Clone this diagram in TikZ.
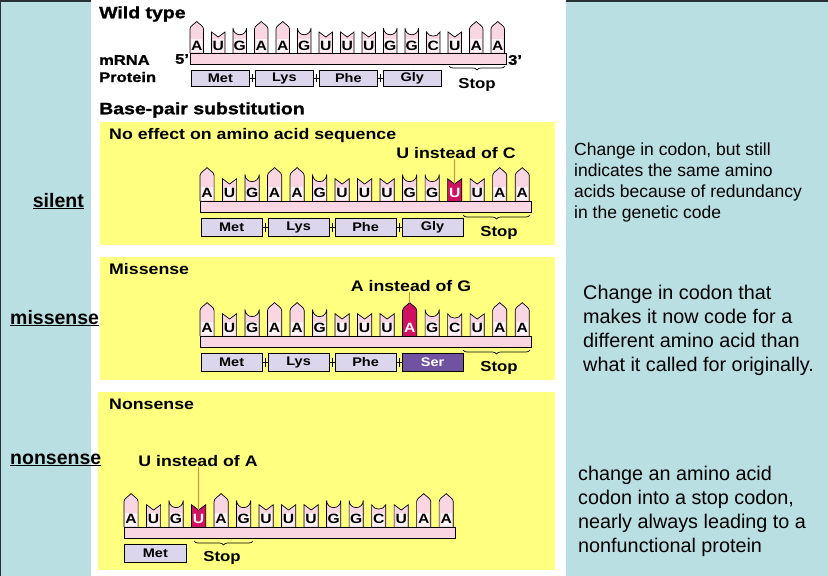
\documentclass[tikz,border=0pt]{standalone}
\usepackage{fontspec}
\setmainfont{Liberation Sans}
\newfontfamily\hv[FakeStretch=1.16]{Liberation Sans}
\newfontfamily\hvx[FakeStretch=1.18,FakeBold=1.2]{Liberation Sans}
\usetikzlibrary{decorations.pathreplacing,calc}
\definecolor{bgblue}{RGB}{186,223,227}
\definecolor{ylw}{RGB}{255,255,128}
\definecolor{tpink}{RGB}{250,214,226}
\definecolor{hmag}{RGB}{208,16,96}
\definecolor{lav}{RGB}{220,214,236}
\definecolor{serc}{RGB}{112,82,160}
\definecolor{ptrc}{RGB}{236,128,64}
\definecolor{edge}{RGB}{40,50,55}
\newcommand\lfont{\hv\bfseries\fontsize{13.5}{13.5}\selectfont}
\newcommand\pfont{\hv\bfseries\fontsize{12.5}{12.5}\selectfont}
\newcommand\tfont{\hv\bfseries\fontsize{15.3}{16}\selectfont}
\def\tshapeA{(0,0)--(0,-24) .. controls (0,-27) and (4.5,-29) .. (6.75,-31.5) .. controls (9,-29) and (13.5,-27) .. (13.5,-24) -- (13.5,0)}
\def\tshapeG{(0,0)--(0,-25) arc[start angle=180,end angle=0,radius=6.75] -- (13.5,0)}
\def\tshapeU{(0,0)--(0,-21)--(6.75,-16)--(13.5,-21)--(13.5,0)}
\def\tshapeC{(0,0)--(0,-21) .. controls (2.5,-15.5) and (11,-15.5) .. (13.5,-21)--(13.5,0)}
\def\ttopA{-31.5}\def\ttopG{-31.75}\def\ttopU{-16}\def\ttopC{-16}
% #1 prefix, #2 x, #3 bar-top y, #4 xscale, #5 yscale, #6 list
\newcommand\tilerow[6]{%
  \begin{scope}[shift={(#2,#3)},xscale=#4,yscale=#5]
    \foreach \L/\h [count=\i from 0] in {#6}{
      \expandafter\let\expandafter\tshape\csname tshape\L\endcsname
      \begin{scope}[shift={(\i*21.5,0)}]
        \draw[tile\h] \tshape;
        \node[letter\h] (#1-\i) at (6.75,-7.3) {\L};
        \coordinate (#1-\i-t) at (6.75,\csname ttop\L\endcsname);
      \end{scope}
    }
    \draw[bar] (0,0) rectangle (316,11);
  \end{scope}}
\begin{document}
\begin{tikzpicture}[x=1pt,y=-1pt,
  tile0/.style={draw=black,line width=0.7pt,fill=tpink},
  tile1/.style={draw=black,line width=0.7pt,fill=hmag},
  letter0/.style={font=\lfont,text=black,inner sep=0pt,fill=tpink!30,minimum width=10.5,minimum height=13.5},
  letter1/.style={font=\lfont,text=white,inner sep=0pt},
  bar/.style={draw=black,line width=0.7pt,fill=tpink},
  pbox/.style={draw=black,line width=0.7pt,fill=lav,font=\pfont,inner sep=0pt,anchor=north west},
  sbox/.style={pbox,fill=serc,text=white},
  plink/.style={draw=black,line width=0.6pt},
  brc/.style={draw=black,line width=0.7pt,decorate,decoration={brace,mirror,amplitude=4pt}},
  stoplbl/.style={font=\hv\bfseries\fontsize{14.5}{14.5}\selectfont,inner sep=0pt},
  hlbl/.style={font=\hvx\bfseries\fontsize{16.5}{16.5}\selectfont,inner sep=0pt,anchor=west},
  slbl/.style={font=\hvx\bfseries\fontsize{14}{14}\selectfont,inner sep=0pt,anchor=west},
  plbl/.style={font=\tfont,inner sep=0pt,anchor=west},
  ilbl/.style={font=\tfont,inner sep=0pt},
  ptr/.style={draw=ptrc,line width=1pt},
  side/.style={font=\bfseries\fontsize{19.5}{20}\selectfont,inner sep=0pt,anchor=base west},
  rt1/.style={font=\fontsize{17.5}{20}\selectfont,inner sep=0pt,anchor=base west},
  rt2/.style={font=\fontsize{19.8}{22}\selectfont,inner sep=0pt,anchor=base west}]
\useasboundingbox (0,0) rectangle (828,576);
% backgrounds
\fill[bgblue] (0,0) rectangle (828,576);
\fill[edge] (0,0) rectangle (828,1.5);
\fill[edge] (0,0) rectangle (1.2,576);
\fill[white] (91,0) rectangle (566,576);
\fill[ylw] (100,122) rectangle (555,245);
\fill[ylw] (100,257) rectangle (555,380);
\fill[ylw] (98,392) rectangle (555,570);

% ---------- wild type ----------
\node[hlbl] (wt) at (99,14) {Wild type};
\node[slbl] (mrna) at (99,60) {mRNA};
\node[slbl] (prot) at (99,77) {Protein};
\node[slbl] (five) at (175,59) {5’};
\node[slbl] (three) at (508,60) {3’};
\tilerow{w}{190}{53}{1}{1}{A/0,U/0,G/0,A/0,A/0,G/0,U/0,U/0,U/0,G/0,G/0,C/0,U/0,A/0,A/0}
\foreach \n [count=\i from 0] in {Met,Lys,Phe,Gly}
  \node[pbox,minimum width=58,minimum height=16] (wp\i) at (191+64*\i,70) {\n};
\foreach \a/\b in {0/1,1/2,2/3}{
  \draw[plink] (wp\a.east) -- (wp\b.west);
  \draw[plink] ($(wp\a.east)!0.5!(wp\b.west)+(0,-4)$) -- ($(wp\a.east)!0.5!(wp\b.west)+(0,4)$);
}
\coordinate (wb1) at (449,66);
\coordinate (wb2) at (505,66);
\draw[brc] (wb1) -- (wb2);
\node[stoplbl] (wstop) at (477,85) {Stop};
\node[hlbl] (bps) at (99,110) {Base-pair substitution};

% ---------- silent ----------
\node[plbl] (sttl) at (109,136) {No effect on amino acid sequence};
\node[ilbl] (slbl) at (456,153) {U instead of C};
\tilerow{s}{200}{201}{1.047}{1.06}{A/0,U/0,G/0,A/0,A/0,G/0,U/0,U/0,U/0,G/0,G/0,U/1,U/0,A/0,A/0}
\draw[ptr] (slbl.south -| s-11-t) -- (s-11-t);
\foreach \n [count=\i from 0] in {Met,Lys,Phe,Gly}
  \node[pbox,minimum width=60.5,minimum height=18] (sp\i) at (201+67*\i,218) {\n};
\foreach \a/\b in {0/1,1/2,2/3}{
  \draw[plink] (sp\a.east) -- (sp\b.west);
  \draw[plink] ($(sp\a.east)!0.5!(sp\b.west)+(0,-4.5)$) -- ($(sp\a.east)!0.5!(sp\b.west)+(0,4.5)$);
}
\coordinate (sb1) at (463,215);
\coordinate (sb2) at (530,215);
\draw[brc] (sb1) -- (sb2);
\node[stoplbl] (sstop) at (499,233) {Stop};

% ---------- missense ----------
\node[plbl] (mttl) at (109,269) {Missense};
\node[ilbl] (mlbl) at (411,286) {A instead of G};
\tilerow{m}{200}{336}{1.047}{1.06}{A/0,U/0,G/0,A/0,A/0,G/0,U/0,U/0,U/0,A/1,G/0,C/0,U/0,A/0,A/0}
\draw[ptr] (mlbl.south -| m-9-t) -- (m-9-t);
\foreach \n [count=\i from 0] in {Met,Lys,Phe}
  \node[pbox,minimum width=60.5,minimum height=18] (mp\i) at (201+67*\i,353) {\n};
\node[sbox,minimum width=60.5,minimum height=18] (mp3) at (201+67*3,353) {Ser};
\foreach \a/\b in {0/1,1/2,2/3}{
  \draw[plink] (mp\a.east) -- (mp\b.west);
  \draw[plink] ($(mp\a.east)!0.5!(mp\b.west)+(0,-4.5)$) -- ($(mp\a.east)!0.5!(mp\b.west)+(0,4.5)$);
}
\coordinate (mb1) at (463,350);
\coordinate (mb2) at (530,350);
\draw[brc] (mb1) -- (mb2);
\node[stoplbl] (mstop) at (499,368) {Stop};

% ---------- nonsense ----------
\node[plbl] (nttl) at (109,404) {Nonsense};
\node[ilbl] (nlbl) at (198,461) {U instead of A};
\tilerow{n}{124}{527}{1.047}{1.06}{A/0,U/0,G/0,U/1,A/0,G/0,U/0,U/0,U/0,G/0,G/0,C/0,U/0,A/0,A/0}
\draw[ptr] (nlbl.south -| n-3-t) -- (n-3-t);
\node[pbox,minimum width=62,minimum height=18] (np0) at (124,544) {Met};
\coordinate (nb1) at (194,541);
\coordinate (nb2) at (253,541);
\draw[brc] (nb1) -- (nb2);
\node[stoplbl] (nstop) at (222,558) {Stop};

% ---------- side labels ----------
\node[side,anchor=base east] (lsil) at (84,207) {\underline{silent}};
\node[side] (lmis) at (10,324) {\underline{missense}};
\node[side] (lnon) at (10,464) {\underline{nonsense}};

% ---------- right texts ----------
\node[rt1] (r1a) at (574,155) {Change in codon, but still};
\node[rt1] (r1b) at (574,176.3) {indicates the same amino};
\node[rt1] (r1c) at (574,197.6) {acids because of redundancy};
\node[rt1] (r1d) at (574,218.9) {in the genetic code};
\node[rt2] (r2a) at (583,299.5) {Change in codon that};
\node[rt2] (r2b) at (583,323.5) {makes it now code for a};
\node[rt2] (r2c) at (583,347.5) {different amino acid than};
\node[rt2] (r2d) at (583,371.5) {what it called for originally.};
\node[rt2] (r3a) at (578,480.5) {change an amino acid};
\node[rt2] (r3b) at (578,504.5) {codon into a stop codon,};
\node[rt2] (r3c) at (578,528.5) {nearly always leading to a};
\node[rt2] (r3d) at (578,552.5) {nonfunctional protein};
\end{tikzpicture}
\end{document}
